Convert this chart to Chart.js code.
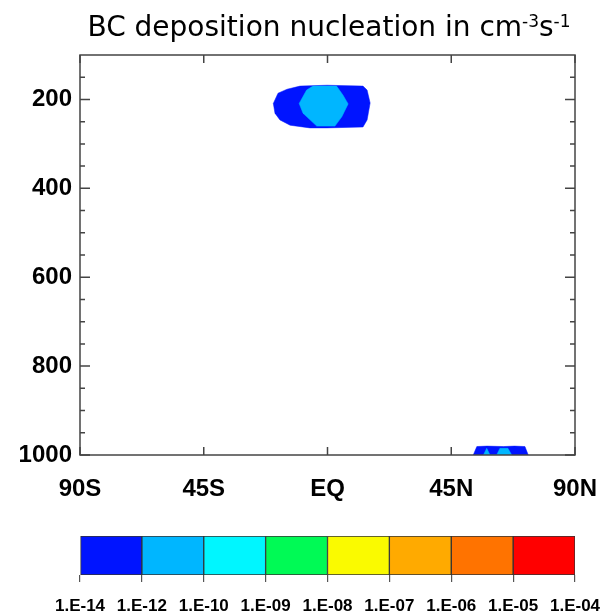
<!DOCTYPE html>
<html>
<head>
<meta charset="utf-8">
<script src="https://cdn.jsdelivr.net/npm/chart.js@4.4.1/dist/chart.umd.min.js"></script>
<style>
  html, body { margin: 0; padding: 0; background: #fff; }
  #wrap { position: relative; width: 612px; height: 616px; }
  #field { position: absolute; left: 0; top: 0; }
  #legend { position: absolute; left: 0; top: 520px; }
</style>
</head>
<body>
<div id="wrap">
  <canvas id="field" width="612" height="520"></canvas>
  <canvas id="legend" width="612" height="96"></canvas>
</div>
<script>
// ---- axes ----
const latTicks = [-90, -45, 0, 45, 90];
const latLabels = ['90S', '45S', 'EQ', '45N', '90N'];
const presTicks = [200, 400, 600, 800, 1000];
const presMinor = [150, 250, 300, 350, 450, 500, 550, 650, 700, 750, 850, 900, 950];

// ---- colour bins ----
const binLabels = ['1.E-14', '1.E-12', '1.E-10', '1.E-09', '1.E-08', '1.E-07', '1.E-06', '1.E-05', '1.E-04'];
const binColors = ['#0014ff', '#00b6ff', '#00f6ff', '#00fa55', '#fafa00', '#ffaa00', '#ff7300', '#ff0000'];

// ---- contour outlines (lat, hPa) ----
// upper troposphere, over the equator
const upperOuterLat  = [-19.7, -18.0, -14.7, -10.0, -0.2, 12.9, 14.4, 15.5, 14.4, 12.9, -0.2, -6.4, -13.6, -17.3, -19.1, -19.7];
const upperOuterPres = [209, 186, 177, 170, 168, 170, 179, 208, 246, 262, 264, 264, 258, 246, 231, 209];
const upperInnerLat  = [-10.3, -7.6, -5.3, 3.3, 5.6, 7.5, 5.2, 2.7, -3.9, -8.9, -10.3];
const upperInnerPres = [209, 179, 170, 170, 190, 210, 239, 260, 260, 231, 209];
// surface, northern mid latitudes
const surfOuterLat  = [53.0, 54.3, 58.0, 64.0, 68.0, 71.8, 73.0, 53.0];
const surfOuterPres = [1000, 981, 980, 981, 980, 981, 1000, 1000];
const surfInnerLat  = [56.7, 57.9, 59.1, 61.5, 62.7, 65.6, 67.0, 56.7];
const surfInnerPres = [1000, 985, 1000, 1000, 985, 985, 1000, 1000];

const titleParts = [
  { text: 'BC deposition nucleation in cm', sup: false },
  { text: '-3', sup: true },
  { text: 's', sup: false },
  { text: '-1', sup: true }
];

const labelFont = '"Liberation Sans", Arial, sans-serif';

function contour(lats, pres, color, order) {
  return {
    data: lats.map((v, i) => ({ x: v, y: pres[i] })),
    showLine: true,
    fill: 'shape',
    backgroundColor: color,
    borderColor: color,
    borderWidth: 0.5,
    pointRadius: 0,
    order: order
  };
}

// keep edge labels from shrinking the plot box
function noSidePad(s) {
  s.paddingLeft = 0;
  s.paddingRight = 0;
}

// title with superscripts
const titlePlugin = {
  id: 'plotTitle',
  afterDraw(chart) {
    const ctx = chart.ctx;
    ctx.save();
    ctx.fillStyle = '#000';
    ctx.textBaseline = 'alphabetic';
    const fontOf = p => p.sup ? '17px "DejaVu Sans"' : '28px "DejaVu Sans"';
    let total = 0;
    titleParts.forEach(p => { ctx.font = fontOf(p); total += ctx.measureText(p.text).width; });
    let x = 329 - total / 2;
    titleParts.forEach(p => {
      ctx.font = fontOf(p);
      ctx.fillText(p.text, x, p.sup ? 27 : 36);
      x += ctx.measureText(p.text).width;
    });
    ctx.restore();
  }
};

// box + inward tick marks on all four sides
const framePlugin = {
  id: 'frameTicks',
  afterDatasetsDraw(chart) {
    const { ctx, chartArea: a, scales: { x, y } } = chart;
    ctx.save();
    ctx.strokeStyle = '#444';
    ctx.lineWidth = 1.5;
    ctx.strokeRect(a.left, a.top, a.right - a.left, a.bottom - a.top);
    ctx.beginPath();
    const yTick = (v, len) => {
      const py = y.getPixelForValue(v);
      ctx.moveTo(a.left, py); ctx.lineTo(a.left + len, py);
      ctx.moveTo(a.right, py); ctx.lineTo(a.right - len, py);
    };
    presTicks.forEach(v => yTick(v, 10));
    presMinor.forEach(v => yTick(v, 5));
    latTicks.forEach(v => {
      const px = x.getPixelForValue(v);
      ctx.moveTo(px, a.bottom); ctx.lineTo(px, a.bottom - 8);
      ctx.moveTo(px, a.top); ctx.lineTo(px, a.top + 8);
    });
    ctx.stroke();
    ctx.restore();
  }
};

new Chart(document.getElementById('field'), {
  type: 'scatter',
  data: {
    datasets: [
      contour(upperInnerLat, upperInnerPres, binColors[1], 0),
      contour(surfInnerLat, surfInnerPres, binColors[1], 0),
      contour(upperOuterLat, upperOuterPres, binColors[0], 1),
      contour(surfOuterLat, surfOuterPres, binColors[0], 1)
    ]
  },
  options: {
    responsive: false,
    animation: false,
    layout: { padding: { top: 55, right: 37, left: 0, bottom: 0 } },
    plugins: { legend: { display: false }, tooltip: { enabled: false } },
    scales: {
      x: {
        type: 'linear', min: -90, max: 90,
        grid: { display: false, drawTicks: false },
        border: { display: false },
        afterBuildTicks: s => { s.ticks = latTicks.map(v => ({ value: v })); },
        afterFit: s => { s.height = 65; noSidePad(s); },
        ticks: {
          padding: 20, maxRotation: 0, autoSkip: false, color: '#000',
          font: { family: labelFont, size: 24, weight: 'bold' },
          callback: (v, i) => latLabels[i]
        }
      },
      y: {
        type: 'linear', min: 100, max: 1000, reverse: true,
        grid: { display: false, drawTicks: false },
        border: { display: false },
        afterBuildTicks: s => { s.ticks = presTicks.map(v => ({ value: v })); },
        afterFit: s => { s.width = 80; },
        ticks: {
          padding: 8, color: '#000',
          font: { family: labelFont, size: 24, weight: 'bold' },
          callback: v => String(v)
        }
      }
    }
  },
  plugins: [titlePlugin, framePlugin]
});

// ---- colour bar ----
new Chart(document.getElementById('legend'), {
  type: 'bar',
  data: {
    labels: [''],
    datasets: binColors.map(c => ({
      data: [1],
      backgroundColor: c,
      borderColor: '#333',
      borderWidth: 1,
      borderSkipped: false,
      barPercentage: 1,
      categoryPercentage: 1
    }))
  },
  options: {
    indexAxis: 'y',
    responsive: false,
    animation: false,
    layout: { padding: { top: 16, right: 37, left: 80, bottom: 0 } },
    plugins: { legend: { display: false }, tooltip: { enabled: false } },
    scales: {
      x: {
        type: 'linear', stacked: true, min: 0, max: binColors.length,
        grid: { drawOnChartArea: false, tickLength: 7, color: '#555', lineWidth: 1.2 },
        border: { display: false },
        afterBuildTicks: s => { s.ticks = binLabels.map((l, i) => ({ value: i })); },
        afterFit: s => { s.height = 41; noSidePad(s); },
        ticks: {
          padding: 14, maxRotation: 0, autoSkip: false, color: '#000',
          font: { family: labelFont, size: 17, weight: 'bold' },
          callback: (v, i) => binLabels[i]
        }
      },
      y: { stacked: true, display: false }
    }
  }
});
</script>
</body>
</html>
